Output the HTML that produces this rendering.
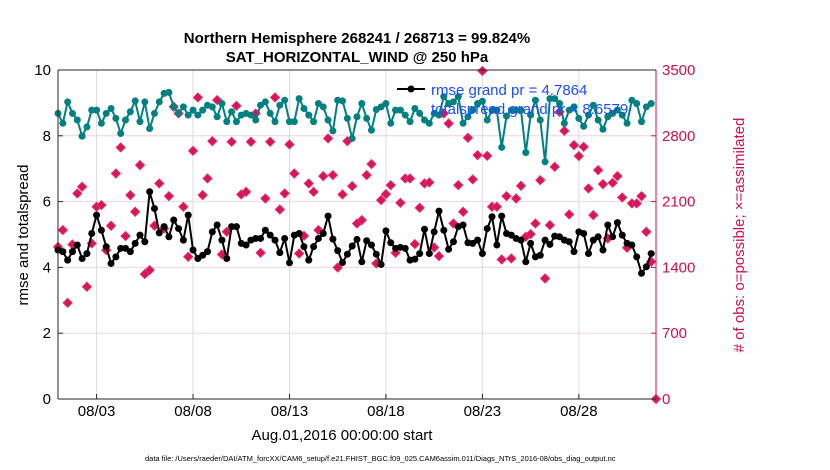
<!DOCTYPE html>
<html><head><meta charset="utf-8"><style>
html,body{margin:0;padding:0;background:#fff;}
svg{display:block;font-family:"Liberation Sans",Arial,sans-serif;}
</style></head><body>
<svg id="chart" width="830" height="470" viewBox="0 0 830 470">
<text x="357" y="43" text-anchor="middle" font-size="15" font-weight="bold">Northern Hemisphere 268241 / 268713 = 99.824%</text>
<text x="357" y="62" text-anchor="middle" font-size="15" font-weight="bold">SAT_HORIZONTAL_WIND @ 250 hPa</text>
<g id="grid"></g>
<g id="obsg"></g>
<g id="lines"></g>
<g id="axes"></g>
<g id="legend">
<line x1="397" y1="89" x2="425" y2="89" stroke="#000" stroke-width="2"/>
<circle cx="411" cy="89" r="3.5" fill="#000"/>
<text x="431" y="95" font-size="15" fill="#1a4dff">rmse grand pr = 4.7864</text>
<text x="431" y="114" font-size="15" fill="#1a4dff">totalspread grand pr = 8.6579</text>
</g>
<text x="342" y="440" text-anchor="middle" font-size="15">Aug.01,2016 00:00:00 start</text>
<text x="145" y="461" font-size="7.5">data file: /Users/raeder/DAI/ATM_forcXX/CAM6_setup/f.e21.FHIST_BGC.f09_025.CAM6assim.011/Diags_NTrS_2016-08/obs_diag_output.nc</text>
<text transform="translate(28,235) rotate(-90)" text-anchor="middle" font-size="15">rmse and totalspread</text>
<text transform="translate(744,235) rotate(-90)" text-anchor="middle" font-size="15" fill="#d0104c"># of obs: o=possible; ×=assimilated</text>
</svg>
<script>
const rmse=[4.53,4.48,4.22,4.48,4.68,4.27,4.42,5.03,5.59,5.13,4.63,4.12,4.32,4.58,4.58,4.48,4.73,4.98,4.78,6.30,5.79,5.05,5.24,4.93,5.44,5.18,4.83,5.59,4.53,4.27,4.37,4.48,5.08,5.29,4.83,4.27,5.24,5.24,4.73,4.68,4.83,4.88,4.88,
5.13,4.98,4.83,4.45,4.88,4.14,4.98,5.03,4.63,4.22,4.63,4.88,5.03,5.56,4.86,4.51,4.15,4.40,4.65,4.85,4.17,4.81,4.68,4.40,4.09,5.11,4.75,4.58,4.61,4.58,4.22,4.25,4.42,5.16,4.42,5.08,5.71,5.13,4.55,4.78,5.24,
5.29,4.75,4.73,4.83,4.42,5.18,5.54,4.68,5.56,5.03,4.98,4.88,4.83,4.17,4.73,4.32,4.37,4.83,4.70,4.95,4.93,4.83,4.78,4.48,5.08,5.03,4.42,4.83,4.93,4.53,5.29,4.93,5.36,4.98,4.73,4.68,4.32,3.82,4.02,4.42];
const spread=[8.68,8.38,9.03,8.68,8.48,7.99,8.27,8.78,8.78,8.38,8.68,8.83,8.53,8.07,8.48,8.73,9.06,8.43,9.03,8.22,8.68,9.03,9.29,9.32,8.88,8.68,8.88,8.63,8.78,8.63,8.78,8.93,8.88,8.58,8.98,8.43,8.73,8.43,8.63,8.68,8.63,8.48,8.93,
9.03,8.68,8.43,8.93,9.08,8.43,8.43,9.13,8.83,8.63,8.43,8.98,8.88,8.48,8.15,9.08,9.06,8.53,7.92,8.58,8.98,8.53,8.17,8.80,8.88,8.98,8.38,8.78,8.78,8.63,8.43,8.83,8.68,8.48,8.38,8.68,8.63,9.19,8.98,9.03,9.19,
8.38,8.58,8.78,8.98,9.05,8.48,8.78,8.78,7.65,8.60,8.78,8.78,8.78,7.49,8.63,9.08,8.48,7.21,9.13,9.13,8.98,8.38,8.78,8.88,8.53,8.29,8.63,8.93,8.48,8.20,8.58,8.68,8.78,8.63,8.38,9.08,8.98,8.43,8.88,8.98];
const nobs=[1619,1797,1023,1644,2187,2258,1194,1655,2045,2063,1584,1843,2399,2676,1733,2169,1992,2488,1329,1371,1843,2293,1814,2158,3109,3038,2045,1513,2640,3208,2169,2346,2743,3180,1538,1779,2736,3119,2176,2204,2736,3038,1555,
2133,2736,3208,2016,2187,2708,2399,1548,1736,2293,2204,1797,2371,2772,2382,1399,2176,2743,2265,1867,1903,2382,2499,1442,2116,2180,2275,1555,2087,2346,2346,1648,2034,2293,2304,1612,1520,3038,2931,1867,2275,
1992,2779,2336,2594,3490,2587,2045,2045,1484,2158,1495,2133,2268,1726,1754,1867,2328,1282,1850,2470,3055,2853,1963,2701,2584,2683,2240,1956,2435,2286,1708,2300,2371,2144,1609,2080,2080,2158,1779,1460,0];
const leftTicks=[0,2,4,6,8,10];
const rightTicks=[0,700,1400,2100,2800,3500];
const xTickLabels=["08/03","08/08","08/13","08/18","08/23","08/28"];
const xTickDays=[2,7,12,17,22,27];
const stepDays=0.25;

const NS="http://www.w3.org/2000/svg";
const L=58,R=656,T=70,B=399;
const xs=d=>L+(d/31)*(R-L);
const yl=v=>B-(v/10)*(B-T);
const yr=v=>B-(v/3500)*(B-T);
function mk(tag,attrs,parent){const e=document.createElementNS(NS,tag);for(const k in attrs)e.setAttribute(k,attrs[k]);parent.appendChild(e);return e;}
const grid=document.getElementById('grid'),axes=document.getElementById('axes'),obsg=document.getElementById('obsg'),lines=document.getElementById('lines');

leftTicks.forEach((t,i)=>{
  if(t>0&&t<10){const g=mk('line',{x1:L,x2:R,y1:yl(t),y2:yl(t),stroke:'#f0d4dc','stroke-width':1},grid);
  
  }
  const tx=mk('text',{x:L-7,y:yl(t)+5,'text-anchor':'end','font-size':15},axes);tx.textContent=t;
  
  
  mk('line',{x1:L,x2:L+5,y1:yl(t),y2:yl(t),stroke:'#262626'},axes);
});
rightTicks.forEach(t=>{
  const tx=mk('text',{x:R+6,y:yr(t)+5,'font-size':15,fill:'#d0104c'},axes);tx.textContent=t;
  
  
  mk('line',{x1:R-5,x2:R,y1:yr(t),y2:yr(t),stroke:'#d0104c'},axes);
});
xTickDays.forEach((d,i)=>{
  const g=mk('line',{x1:xs(d),x2:xs(d),y1:T,y2:B,stroke:'#dcdcdc','stroke-width':1},grid);
  
  
  mk('line',{x1:xs(d),x2:xs(d),y1:B,y2:B-5,stroke:'#262626'},axes);
  const tx=mk('text',{x:xs(d),y:B+17,'text-anchor':'middle','font-size':15},axes);tx.textContent=xTickLabels[i];
  
  
});
mk('line',{x1:L,x2:R,y1:T,y2:T,stroke:'#262626'},axes);
mk('line',{x1:L,x2:R,y1:B,y2:B,stroke:'#262626'},axes);
mk('line',{x1:L,x2:L,y1:T,y2:B,stroke:'#262626'},axes);
mk('line',{x1:R,x2:R,y1:T,y2:B,stroke:'#d0104c'},axes);

nobs.forEach((v,i)=>{
  const x=xs(i*stepDays),y=yr(v),s=4.5;
  const p=mk('path',{d:`M${x-s},${y}L${x},${y-s}L${x+s},${y}L${x},${y+s}Z`,fill:'#d8145a',stroke:'#e0306c','stroke-width':1},obsg);
  
  
});
function series(arr,color,name){
  const pts=arr.map((v,i)=>[xs(i*stepDays),yl(v)]);
  const pl=mk('polyline',{points:pts.map(p=>p.join(',')).join(' '),fill:'none',stroke:color,'stroke-width':2},lines);
  
  
  pts.forEach(p=>{const c=mk('circle',{cx:p[0],cy:p[1],r:3.5,fill:color},lines);
  
  });
}
series(spread,'#008080','totalspread');
series(rmse,'#000000','rmse');
</script>
</body></html>
